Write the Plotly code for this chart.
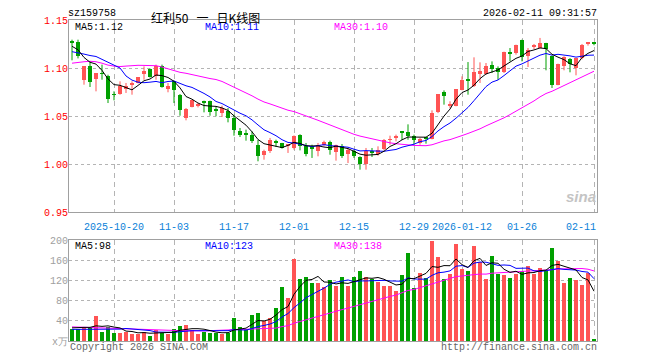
import plotly.graph_objects as go
import pandas as pd

# ---------------- data ----------------
opens = [1.1275,1.1274,1.0878,1.1017,1.0885,1.0945,1.0913,1.0725,1.0729,1.0781,
         1.0830,1.0844,1.0938,1.0990,1.0913,1.1024,1.0781,1.0861,1.0722,1.0479,
         1.0594,1.0606,1.0660,1.0653,1.0558,1.0531,1.0556,1.0479,1.0347,1.0306,
         1.0306,1.0201,1.0097,1.0132,1.0232,1.0219,1.0190,1.0167,1.0302,1.0184,
         1.0162,1.0132,1.0201,1.0229,1.0125,1.0184,1.0108,1.0132,1.0069,1.0003,
         1.0122,1.0108,1.0160,1.0250,1.0278,1.0340,1.0333,1.0288,1.0219,1.0268,
         1.0264,1.0538,1.0747,1.0601,1.0608,1.0774,1.0889,1.0809,1.0941,1.0938,
         1.1035,1.1000,1.0955,1.1158,1.1156,1.1295,1.1122,1.1226,1.1208,1.1260,
         1.1128,1.0826,1.1024,1.1094,1.1000,1.1104,1.1255,1.1262]
highs = [1.1295,1.1295,1.1017,1.1069,1.0948,1.1035,1.0930,1.0757,1.0861,1.0844,
         1.0861,1.0906,1.1017,1.0995,1.1035,1.1035,1.0844,1.0868,1.0729,1.0583,
         1.0663,1.0635,1.0660,1.0660,1.0601,1.0608,1.0583,1.0514,1.0375,1.0358,
         1.0340,1.0253,1.0149,1.0271,1.0253,1.0220,1.0200,1.0298,1.0310,1.0219,
         1.0201,1.0219,1.0243,1.0243,1.0201,1.0208,1.0167,1.0149,1.0080,1.0167,
         1.0167,1.0184,1.0260,1.0295,1.0306,1.0340,1.0413,1.0306,1.0271,1.0281,
         1.0559,1.0729,1.0767,1.0653,1.0781,1.0913,1.1062,1.1111,1.1059,1.1052,
         1.1069,1.1017,1.1170,1.1208,1.1243,1.1295,1.1208,1.1250,1.1313,1.1262,
         1.1128,1.1045,1.1122,1.1104,1.1104,1.1250,1.1267,1.1265]
lows = [1.1080,1.1100,1.0826,1.0802,1.0757,1.0878,1.0635,1.0663,1.0722,1.0740,
        1.0722,1.0840,1.0878,1.0900,1.0878,1.0795,1.0747,1.0635,1.0503,1.0455,
        1.0590,1.0590,1.0538,1.0503,1.0497,1.0490,1.0434,1.0295,1.0281,1.0243,
        1.0219,1.0028,1.0045,1.0115,1.0177,1.0160,1.0115,1.0150,1.0142,1.0080,
        1.0063,1.0080,1.0184,1.0097,1.0035,1.0063,1.0010,1.0063,0.9941,0.9941,
        1.0073,1.0087,1.0142,1.0201,1.0236,1.0250,1.0253,1.0201,1.0201,1.0212,
        1.0257,1.0530,1.0618,1.0583,1.0601,1.0767,1.0722,1.0802,1.0844,1.0931,
        1.0948,1.0878,1.0948,1.1069,1.1139,1.1069,1.1010,1.1198,1.1205,1.0976,
        1.0792,1.0820,1.0976,1.0955,1.0924,1.1090,1.1233,1.1237]
closes = [1.1265,1.1122,1.1017,1.0851,1.0948,1.0938,1.0677,1.0720,1.0816,1.0816,
          1.0833,1.0906,1.0965,1.0906,1.1024,1.0802,1.0809,1.0767,1.0563,1.0573,
          1.0663,1.0610,1.0635,1.0538,1.0555,1.0583,1.0479,1.0351,1.0306,1.0304,
          1.0236,1.0080,1.0132,1.0247,1.0229,1.0167,1.0194,1.0295,1.0184,1.0108,
          1.0160,1.0201,1.0229,1.0149,1.0194,1.0087,1.0142,1.0087,1.0003,1.0139,
          1.0120,1.0149,1.0253,1.0253,1.0281,1.0323,1.0295,1.0247,1.0264,1.0267,
          1.0531,1.0729,1.0705,1.0629,1.0781,1.0878,1.0861,1.0955,1.0972,1.1024,
          1.0993,1.0955,1.1163,1.1156,1.1236,1.1115,1.1191,1.1243,1.1260,1.1201,
          1.0819,1.1042,1.1115,1.1042,1.1104,1.1243,1.1260,1.1260]
volumes = [24,23,28,25.3,50,18.7,28,16,16.7,18.7,
           14.7,14.7,18.7,10,21.3,16.7,14.7,24,30,32,
           21.3,14.7,18.7,16.7,16.7,14.7,16,45.3,28,23.3,
           52,54.7,40,45.3,64.7,106,84.7,162,122,126,
           114.7,114.7,106.7,120,108.7,126,108.7,126,138,126,
           122,116.7,108.7,108.7,98.7,130,174.7,104.7,134.7,125.3,
           198,166.7,122,133.3,192,142,138.7,188.7,156.7,122,
           168.7,133.3,130,125.3,133.3,138,148,133.3,144,138,
           184.7,158.7,114.7,125.3,120,110,134.7,3.3]

# moving-average values at the start of the window (prior history)
ma5_head = [1.1226, 1.1190, 1.1110, 1.1060]
ma10_head = [1.1170, 1.1160, 1.1145, 1.1130, 1.1120, 1.1090, 1.1060, 1.1030, 1.1000]
ma30_head = [1.1050, 1.1060, 1.1065, 1.1070, 1.1065, 1.1050, 1.1030, 1.1020, 1.1015, 1.1020,
             1.1025, 1.1028, 1.1027, 1.1026, 1.1024, 1.1010, 1.0990, 1.0970, 1.0955, 1.0945,
             1.0930, 1.0913, 1.0900, 1.0890, 1.0880, 1.0860, 1.0830, 1.0800, 1.0770]
vma5_head = [26, 27, 27, 27]
vma10_head = [23, 23, 23.5, 24, 24, 24, 24, 24, 23.5]
vma30_head = [28, 27.5, 27, 26.5, 26, 25.5, 25, 24.5, 24, 23.5, 23, 23, 22.5, 22.5, 22,
              21.5, 21, 21, 20.5, 20.5, 20, 20, 20, 20.5, 21, 21.5, 22, 22, 22]

tick_idx = [7, 17, 27, 37, 47, 57, 65, 75, 87]
tick_labels = ["2025-10-20", "11-03", "11-17", "12-01", "12-15", "12-29", "2026-01-12", "01-26", "02-11"]
price_ticks = [0.95, 1.00, 1.05, 1.10, 1.15]
vol_ticks = [0, 40, 80, 120, 160, 200]
vol_tick_text = ["x万", "40", "80", "120", "160", "200"]

code = "sz159758"
title = "红利50\u00a0\u00a0 一\u00a0\u00a0 日K线图"
stamp = "2026-02-11 09:31:57"

# ---------------- computed ----------------
n = len(closes)
idx = list(range(n))

def ma(series, w, head):
    r = pd.Series(series).rolling(w).mean().tolist()
    return head + r[len(head):]

ma5 = ma(closes, 5, ma5_head)
ma10 = ma(closes, 10, ma10_head)
ma30 = ma(closes, 30, ma30_head)
vma5 = ma(volumes, 5, vma5_head)
vma10 = ma(volumes, 10, vma10_head)
vma30 = ma(volumes, 30, vma30_head)

RED = "#ff5454"
GREEN = "#00a000"
up = [c >= o for o, c in zip(opens, closes)]
MINH = 0.0009

fig = go.Figure()

for is_up, col in [(True, RED), (False, GREEN)]:
    sel = [i for i in idx if up[i] == is_up]
    wx, wy = [], []
    for i in sel:
        wx += [i, i, None]
        wy += [lows[i], highs[i], None]
    fig.add_trace(go.Scatter(x=wx, y=wy, mode="lines", line=dict(color=col, width=1),
                             xaxis="x", yaxis="y", hoverinfo="skip", showlegend=False))
    fig.add_trace(go.Bar(x=sel,
                         base=[min(opens[i], closes[i]) for i in sel],
                         y=[max(abs(closes[i] - opens[i]), MINH) for i in sel],
                         width=0.8, marker=dict(color=col, line=dict(width=0)),
                         xaxis="x", yaxis="y", showlegend=False))
    fig.add_trace(go.Bar(x=sel, y=[volumes[i] for i in sel], width=0.8,
                         marker=dict(color=col, line=dict(width=0)),
                         xaxis="x2", yaxis="y2", showlegend=False))

for arr, col in [(ma30, "#ff00ff"), (ma10, "#0000ff"), (ma5, "#000000")]:
    fig.add_trace(go.Scatter(x=idx, y=arr, mode="lines", line=dict(color=col, width=1),
                             xaxis="x", yaxis="y", showlegend=False))
for arr, col in [(vma30, "#ff00ff"), (vma10, "#0000ff"), (vma5, "#000000")]:
    fig.add_trace(go.Scatter(x=idx, y=arr, mode="lines", line=dict(color=col, width=1),
                             xaxis="x2", yaxis="y2", showlegend=False))

# ---------------- layout ----------------
# the page body has an 8px margin, so the figure is drawn 8px smaller and
# every screen coordinate is shifted by OFF
OFF = 8
SW, SH = 660, 360
W, H = SW - OFF, SH - OFF
PL, PR, PT, PB = 69, 597, 20, 341          # plot box in screen pixels
L, T = PL - OFF, PT - OFF
R, B = W - (PR - OFF), H - (PB - OFF)
PW, PH = W - L - R, H - T - B

def pxx(x):
    return (x - OFF - L) / PW

def pyy(y):
    return (H - B - (y - OFF)) / PH

MONO = "Liberation Mono"
GRID = "#b4b4b4"
BORDER = "#a0a0a0"

xcommon = dict(range=[-0.5, n - 0.5], tickvals=tick_idx, showticklabels=False, ticks="",
               showgrid=True, gridcolor=GRID, griddash="5px,4px", gridwidth=1,
               showline=True, mirror=True, linecolor=BORDER, linewidth=1, zeroline=False,
               fixedrange=True)

fig.update_layout(
    width=W, height=H, margin=dict(l=L, r=R, t=T, b=B, autoexpand=False),
    paper_bgcolor="white", plot_bgcolor="white",
    barmode="overlay", bargap=0, showlegend=False, hovermode=False,
    xaxis=dict(domain=[0, 1], anchor="y", **xcommon),
    xaxis2=dict(domain=[0, 1], anchor="y2", matches="x", **xcommon),
    yaxis=dict(domain=[pyy(212), 1], range=[0.95, 1.15], tickvals=price_ticks,
               ticktext=[f"{v:.2f}" for v in price_ticks], ticks="", ticklabelstandoff=-2,
               tickfont=dict(family=MONO, size=10, color="#ff0000"),
               showgrid=True, gridcolor=GRID, griddash="dot", gridwidth=1,
               showline=True, mirror=True, linecolor=BORDER, linewidth=1, zeroline=False),
    yaxis2=dict(domain=[0, pyy(240)], range=[0, 200], tickvals=vol_ticks, ticktext=vol_tick_text,
                ticks="", ticklabelstandoff=-2, tickfont=dict(family=MONO, size=10, color="#a0a0a0"),
                showgrid=True, gridcolor=GRID, griddash="dot", gridwidth=1,
                showline=True, mirror=True, linecolor=BORDER, linewidth=1, zeroline=False),
)

ann = []

def text(x, y, s, color="#000", size=10, xanchor="left", family=MONO, yanchor="middle", **kw):
    ann.append(dict(x=pxx(x), y=pyy(y), xref="paper", yref="paper", text=s, showarrow=False,
                    xanchor=xanchor, yanchor=yanchor, borderpad=0,
                    font=dict(family=family, size=size, color=color), **kw))

text(67, 14, code)
text(150, 8, title, size=12, family="Noto Sans CJK SC", yanchor="top")
text(598, 14, stamp, xanchor="right")
text(74, 27, f"MA5:{ma5[-1]:.2f}")
text(204, 27, f"MA10:{ma10[-1]:.2f}", color="#0000ff")
text(333, 27, f"MA30:{ma30[-1]:.2f}", color="#ff00ff")
text(74, 246, f"MA5:{int(vma5[-1])}")
text(204, 246, f"MA10:{int(vma10[-1])}", color="#0000ff")
text(333, 246, f"MA30:{int(vma30[-1])}", color="#ff00ff")
for k, (i, lab) in enumerate(zip(tick_idx, tick_labels)):
    xp = PL + (i + 0.5) * (PR - PL) / n
    if k == len(tick_idx) - 1:
        text(597, 227, lab, color="#0a7fd8", xanchor="right")
    else:
        text(xp, 227, lab, color="#0a7fd8", xanchor="center")
text(69, 348, "Copyright 2026 SINA.COM", color="#666666")
text(598, 348, "http://finance.sina.com.cn", color="#666666", xanchor="right")
text(597, 197, "<i><b>sina</b></i>", color="#c4c4c4", size=15, xanchor="right", family="Arial")

fig.update_layout(annotations=ann)
fig.write_html("out.html")
